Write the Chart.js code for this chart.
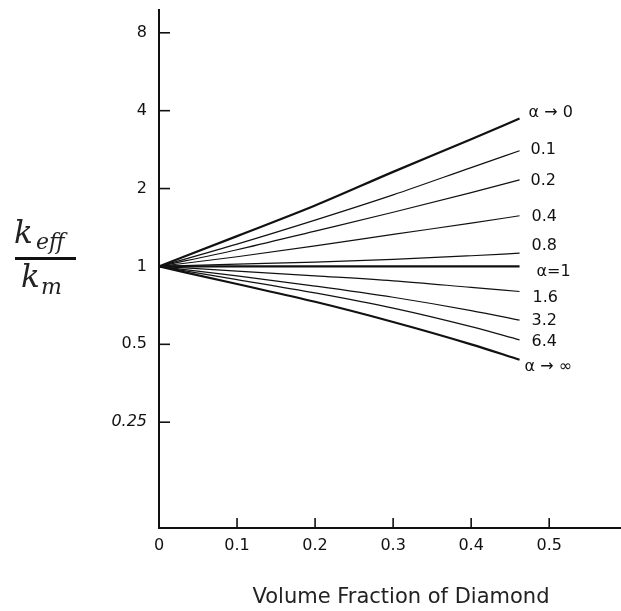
<!DOCTYPE html>
<html>
<head>
<meta charset="utf-8">
<script src="https://cdn.jsdelivr.net/npm/chart.js@4.4.1/dist/chart.umd.min.js"></script>
<style>
  html, body { margin: 0; padding: 0; background: #fff; }
  #wrap { width: 621px; height: 611px; position: relative; }
</style>
</head>
<body>
<div id="wrap"><canvas id="myChart"></canvas></div>
<script>
// volume fraction of diamond (x) and k_eff/k_m for each alpha
const volumeFraction = [0, 0.1, 0.2, 0.3, 0.4, 0.462];
const alphaLabels = ['α → 0', '0.1', '0.2', '0.4', '0.8', 'α=1', '1.6', '3.2', '6.4', 'α → ∞'];
const alpha0 = [1, 1.31, 1.72, 2.32, 3.1, 3.73];
const alpha01 = [1, 1.22, 1.51, 1.89, 2.41, 2.8];
const alpha02 = [1, 1.16, 1.37, 1.62, 1.93, 2.16];
const alpha04 = [1, 1.09, 1.2, 1.33, 1.47, 1.57];
const alpha08 = [1, 1.02, 1.04, 1.065, 1.1, 1.125];
const alpha1 = [1, 1, 1, 1, 1, 1];
const alpha16 = [1, 0.96, 0.92, 0.88, 0.83, 0.8];
const alpha32 = [1, 0.92, 0.84, 0.76, 0.675, 0.62];
const alpha64 = [1, 0.89, 0.79, 0.69, 0.585, 0.52];
const alphaInf = [1, 0.855, 0.73, 0.61, 0.5, 0.436];
const xTicks = [0, 0.1, 0.2, 0.3, 0.4, 0.5];
const yTicks = [0.25, 0.5, 1, 2, 4, 8];

const allSeries = [alpha0, alpha01, alpha02, alpha04, alpha08, alpha1, alpha16, alpha32, alpha64, alphaInf];
const thick = [0, 5, 9];

const datasets = allSeries.map((vals, i) => ({
  label: alphaLabels[i],
  data: vals.map((v, j) => ({ x: volumeFraction[j], y: v })),
  borderColor: '#111',
  borderWidth: thick.includes(i) ? 2.2 : 1.2,
  pointRadius: 0,
  fill: false,
  cubicInterpolationMode: 'monotone',
}));

// label placement next to the end of each curve
const labelDx = [9, 11, 11, 12, 12, 17, 13, 12, 12, 5];
const labelDy = [-6, -1, 1, 1, -7, 5, 6, 1, 2, 7];

const decorations = {
  id: 'decorations',
  afterDraw(chart) {
    const { ctx, chartArea, scales } = chart;
    const xs = scales.x;
    const ys = scales.y;
    ctx.save();
    ctx.strokeStyle = '#111';
    ctx.lineWidth = 1.6;
    // inward tick marks
    xTicks.forEach((v) => {
      if (v === 0) return;
      const px = xs.getPixelForValue(v);
      ctx.beginPath();
      ctx.moveTo(px, chartArea.bottom);
      ctx.lineTo(px, chartArea.bottom - 10);
      ctx.stroke();
    });
    yTicks.forEach((v) => {
      const py = ys.getPixelForValue(v);
      ctx.beginPath();
      ctx.moveTo(chartArea.left, py);
      ctx.lineTo(chartArea.left + 11, py);
      ctx.stroke();
    });

    // curve labels
    ctx.fillStyle = '#111';
    ctx.font = '16px "DejaVu Sans"';
    ctx.textAlign = 'left';
    ctx.textBaseline = 'middle';
    chart.data.datasets.forEach((ds, i) => {
      const last = ds.data[ds.data.length - 1];
      const px = xs.getPixelForValue(last.x);
      const py = ys.getPixelForValue(last.y);
      ctx.fillText(ds.label, px + labelDx[i], py + labelDy[i]);
    });

    // x axis title
    ctx.fillStyle = '#222';
    ctx.font = '21px "DejaVu Sans"';
    ctx.textAlign = 'center';
    ctx.textBaseline = 'alphabetic';
    ctx.fillText('Volume Fraction of Diamond', 401, 603);

    // y axis title: k_eff / k_m
    ctx.textAlign = 'left';
    ctx.font = 'italic 31px "DejaVu Serif"';
    ctx.fillText('k', 14, 243);
    ctx.font = 'italic 22px "DejaVu Serif"';
    ctx.fillText('eff', 36, 249);
    ctx.font = 'italic 31px "DejaVu Serif"';
    ctx.fillText('k', 21, 287);
    ctx.font = 'italic 22px "DejaVu Serif"';
    ctx.fillText('m', 41, 294);
    ctx.lineWidth = 3;
    ctx.beginPath();
    ctx.moveTo(15, 258.5);
    ctx.lineTo(76, 258.5);
    ctx.stroke();
    ctx.restore();
  },
};

const chart = new Chart(document.getElementById('myChart').getContext('2d'), {
  type: 'line',
  data: { datasets },
  options: {
    responsive: true,
    maintainAspectRatio: false,
    animation: false,
    layout: { padding: { top: 10, right: 0, left: 0, bottom: 0 } },
    plugins: { legend: { display: false }, tooltip: { enabled: false } },
    scales: {
      x: {
        type: 'linear',
        min: 0,
        max: 0.592,
        afterBuildTicks: (s) => { s.ticks = xTicks.map((v) => ({ value: v })); },
        afterFit: (s) => { s.height = 83; s.paddingLeft = 0; s.paddingRight = 0; },
        grid: { display: false, drawTicks: false },
        border: { display: true, color: '#111', width: 2 },
        ticks: {
          color: '#111',
          padding: 8,
          font: { family: 'DejaVu Sans', size: 16 },
          callback: (v) => (v === 0 ? '0' : v.toFixed(1)),
        },
      },
      y: {
        type: 'logarithmic',
        min: 0.0975,
        max: 9.8,
        afterBuildTicks: (s) => { s.ticks = yTicks.map((v) => ({ value: v })); },
        afterFit: (s) => { s.width = 159; s.paddingTop = 0; s.paddingBottom = 0; },
        grid: { display: false, drawTicks: false },
        border: { display: true, color: '#111', width: 2 },
        ticks: {
          color: '#111',
          padding: 12,
          font: (c) => ({ family: 'DejaVu Sans', size: 16, style: c.tick && c.tick.value === 0.25 ? 'italic' : 'normal' }),
          callback: (v) => String(v),
        },
      },
    },
  },
  plugins: [decorations],
});
</script>
</body>
</html>
